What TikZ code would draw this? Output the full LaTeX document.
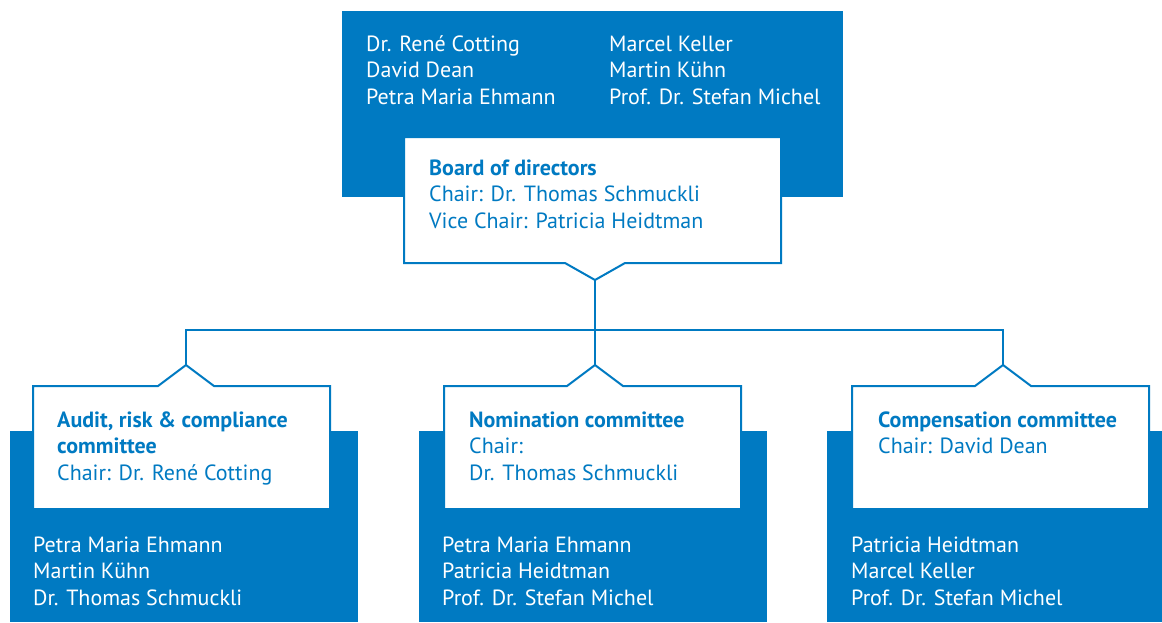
\documentclass[tikz,border=0pt]{standalone}
\usepackage{fontspec}
\setmainfont{PT Sans}
\definecolor{cblue}{RGB}{0,122,194}
\newcommand{\lines}[1]{\begin{tabular}[t]{@{}l@{}}#1\end{tabular}}
\tikzset{
  bluebox/.style={fill=cblue, draw=none},
  whitebox/.style={fill=white, draw=cblue, line width=2pt, line join=miter},
  conn/.style={draw=cblue, line width=2pt},
  wtext/.style={anchor=base west, inner sep=0pt, text=white, font=\fontsize{22}{26.6}\selectfont},
  btext/.style={anchor=base west, inner sep=0pt, text=cblue, font=\fontsize{22}{26.6}\selectfont},
}
\begin{document}
\begin{tikzpicture}[x=1pt,y=-1pt]
\useasboundingbox (0,0) rectangle (1162,622);
% blue panels
\fill[bluebox] (342,11) rectangle (843,197);
\fill[bluebox] (10,431) rectangle (358,622);
\fill[bluebox] (419,431) rectangle (767,622);
\fill[bluebox] (827,431) rectangle (1162,622);
% white boxes with notches
\draw[whitebox] (404,137) -- (781,137) -- (781,263) -- (625,263) -- (595,280) -- (565,263) -- (404,263) -- cycle;
\coordinate (btip) at (595,280);
\draw[whitebox] (33,386) -- (158,386) -- (186,365) -- (214,386) -- (330,386) -- (330,509) -- (33,509) -- cycle;
\coordinate (t1) at (186,365);
\draw[whitebox] (444,386) -- (567,386) -- (595,365) -- (623,386) -- (741,386) -- (741,509) -- (444,509) -- cycle;
\coordinate (t2) at (595,365);
\draw[whitebox] (852,386) -- (975,386) -- (1003,365) -- (1031,386) -- (1149,386) -- (1149,509) -- (852,509) -- cycle;
\coordinate (t3) at (1003,365);
% connectors
\coordinate (bus) at (595,330);
\draw[conn] (btip) -- (t2);
\draw[conn] (t1) |- (bus) -| (t3);
% top members
\node[wtext] (m1) at (366,51) {\lines{Dr. René Cotting\\David Dean\\Petra Maria Ehmann}};
\node[wtext] (m2) at (609,51) {\lines{Marcel Keller\\Martin Kühn\\Prof. Dr. Stefan Michel}};
% board
\node[btext] (board) at (429,175) {\lines{\textbf{Board of directors}\\Chair: Dr. Thomas Schmuckli\\Vice Chair: Patricia Heidtman}};
% committees
\node[btext] (c1) at (57,427) {\lines{\textbf{Audit, risk \& compliance}\\\textbf{committee}\\Chair: Dr. René Cotting}};
\node[btext] (c2) at (469,427) {\lines{\textbf{Nomination committee}\\Chair:\\Dr. Thomas Schmuckli}};
\node[btext] (c3) at (878,427) {\lines{\textbf{Compensation committee}\\Chair: David Dean}};
% committee members
\node[wtext] (l1) at (33,552) {\lines{Petra Maria Ehmann\\Martin Kühn\\Dr. Thomas Schmuckli}};
\node[wtext] (l2) at (442,552) {\lines{Petra Maria Ehmann\\Patricia Heidtman\\Prof. Dr. Stefan Michel}};
\node[wtext] (l3) at (851,552) {\lines{Patricia Heidtman\\Marcel Keller\\Prof. Dr. Stefan Michel}};
\end{tikzpicture}
\end{document}
